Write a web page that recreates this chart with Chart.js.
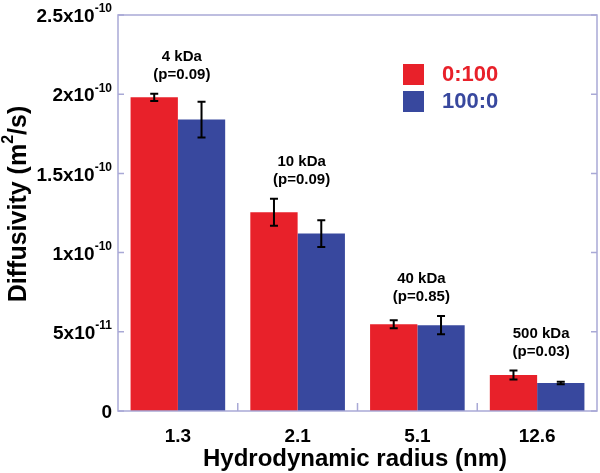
<!DOCTYPE html>
<html>
<head>
<meta charset="utf-8">
<script src="https://cdn.jsdelivr.net/npm/chart.js@4.4.1/dist/chart.umd.min.js"></script>
<style>
html,body{margin:0;padding:0;background:#fff;}
#wrap{width:600px;height:473px;position:relative;}
</style>
</head>
<body>
<div id="wrap"><canvas id="c" width="600" height="473"></canvas></div>
<script>
// ---- data ----
const categories = ['1.3', '2.1', '5.1', '12.6'];
const seriesNames = ['0:100', '100:0'];
const red_0_100 = [1.98e-10, 1.255e-10, 5.48e-11, 2.27e-11];
const red_err = [0.23e-11, 0.85e-11, 0.25e-11, 0.28e-11];
const blue_100_0 = [1.84e-10, 1.12e-10, 5.42e-11, 1.77e-11];
const blue_err = [1.13e-11, 0.84e-11, 0.57e-11, 0.08e-11];
const groupLabels = ['4 kDa', '10 kDa', '40 kDa', '500 kDa'];
const pValues = ['(p=0.09)', '(p=0.09)', '(p=0.85)', '(p=0.03)'];
const yTicks = [0, 5e-11, 1e-10, 1.5e-10, 2e-10, 2.5e-10];
const yTickBase = ['0', '5x10', '1x10', '1.5x10', '2x10', '2.5x10'];
const yTickExp = ['', '-11', '-10', '-10', '-10', '-10'];

const RED = '#e8212a';
const BLUE = '#38489e';
const FRAME = '#a9a9d6';
const FONT = '"Liberation Sans", Arial, Helvetica, sans-serif';

function supText(ctx, base, sup, x, y, size, supSize, align) {
  ctx.font = 'bold ' + size + 'px ' + FONT;
  const wb = ctx.measureText(base).width;
  ctx.font = 'bold ' + supSize + 'px ' + FONT;
  const ws = sup ? ctx.measureText(sup).width : 0;
  const total = wb + ws;
  let x0 = x;
  if (align === 'right') x0 = x - total;
  else if (align === 'center') x0 = x - total / 2;
  ctx.textAlign = 'left';
  ctx.textBaseline = 'middle';
  ctx.font = 'bold ' + size + 'px ' + FONT;
  ctx.fillText(base, x0, y);
  if (sup) {
    ctx.font = 'bold ' + supSize + 'px ' + FONT;
    ctx.fillText(sup, x0 + wb, y - size * 0.42);
  }
}

const decor = {
  id: 'decor',
  afterDatasetsDraw(chart) {
    const ctx = chart.ctx;
    const ca = chart.chartArea;
    const xs = chart.scales.x, ys = chart.scales.y;
    ctx.save();
    // frame
    ctx.strokeStyle = FRAME;
    ctx.lineWidth = 1.5;
    ctx.strokeRect(ca.left, ca.top, ca.right - ca.left, ca.bottom - ca.top);
    // y ticks (inside, both sides)
    yTicks.forEach(v => {
      const py = ys.getPixelForValue(v);
      ctx.beginPath();
      ctx.moveTo(ca.left, py); ctx.lineTo(ca.left + 6, py);
      ctx.moveTo(ca.right, py); ctx.lineTo(ca.right - 6, py);
      ctx.stroke();
    });
    // x ticks at category boundaries
    for (let i = 1; i < categories.length; i++) {
      const px = (xs.getPixelForValue(i - 1) + xs.getPixelForValue(i)) / 2;
      ctx.beginPath();
      ctx.moveTo(px, ca.bottom); ctx.lineTo(px, ca.bottom - 8);
      ctx.stroke();
    }
    // error bars
    ctx.strokeStyle = '#000';
    ctx.lineWidth = 2;
    const errs = [red_err, blue_err];
    const tops = [];
    chart.data.datasets.forEach((ds, di) => {
      const meta = chart.getDatasetMeta(di);
      meta.data.forEach((bar, i) => {
        const v = ds.data[i];
        const e = errs[di][i];
        const yt = ys.getPixelForValue(v + e);
        const yb = ys.getPixelForValue(v - e);
        const x = bar.x;
        ctx.beginPath();
        ctx.moveTo(x, yt); ctx.lineTo(x, yb);
        ctx.moveTo(x - 4, yt); ctx.lineTo(x + 4, yt);
        ctx.moveTo(x - 4, yb); ctx.lineTo(x + 4, yb);
        ctx.stroke();
        tops[i] = Math.min(tops[i] === undefined ? Infinity : tops[i], yt);
      });
    });
    // group annotations
    ctx.fillStyle = '#000';
    categories.forEach((c, i) => {
      const x = xs.getPixelForValue(i) + 4;
      const yb = tops[i] - 19;
      ctx.font = 'bold 15px ' + FONT;
      ctx.textAlign = 'center';
      ctx.textBaseline = 'middle';
      ctx.fillText(pValues[i], x, yb);
      ctx.fillText(groupLabels[i], x, yb - 18);
    });
    // y tick labels
    ctx.fillStyle = '#000';
    yTicks.forEach((v, i) => {
      const py = ys.getPixelForValue(v);
      supText(ctx, yTickBase[i], yTickExp[i], 112, py + 2, 19, 12, 'right');
    });
    ctx.restore();
  }
};

const titles = {
  id: 'titles',
  afterDraw(chart) {
    const ctx = chart.ctx;
    // y title with superscript
    ctx.save();
    ctx.fillStyle = '#000';
    const size = 25, sup = 16;
    const p1 = 'Diffusivity (m', p2 = '2', p3 = '/s)';
    ctx.font = 'bold ' + size + 'px ' + FONT;
    const w1 = ctx.measureText(p1).width, w3 = ctx.measureText(p3).width;
    ctx.font = 'bold ' + sup + 'px ' + FONT;
    const w2 = ctx.measureText(p2).width;
    const total = w1 + w2 + w3;
    ctx.translate(19, 204);
    ctx.rotate(-Math.PI / 2);
    ctx.textAlign = 'left';
    ctx.textBaseline = 'middle';
    let x = -total / 2;
    ctx.font = 'bold ' + size + 'px ' + FONT;
    ctx.fillText(p1, x, 0);
    x += w1;
    ctx.font = 'bold ' + sup + 'px ' + FONT;
    ctx.fillText(p2, x, -size * 0.42);
    x += w2;
    ctx.font = 'bold ' + size + 'px ' + FONT;
    ctx.fillText(p3, x, 0);
    ctx.restore();

    // legend
    ctx.save();
    const lx = 403, ly = [64, 91];
    const cols = [RED, BLUE];
    seriesNames.forEach((n, i) => {
      ctx.fillStyle = cols[i];
      ctx.fillRect(lx, ly[i], 21, 21);
      ctx.font = 'bold 22px ' + FONT;
      ctx.textAlign = 'left';
      ctx.textBaseline = 'middle';
      ctx.fillText(n, 442, ly[i] + 11);
    });
    // x title
    ctx.fillStyle = '#000';
    ctx.font = 'bold 24px ' + FONT;
    ctx.textAlign = 'center';
    ctx.textBaseline = 'middle';
    ctx.fillText('Hydrodynamic radius (nm)', 355, 459);
    ctx.restore();
  }
};

new Chart(document.getElementById('c'), {
  type: 'bar',
  data: {
    labels: categories,
    datasets: [
      { label: seriesNames[0], data: red_0_100, backgroundColor: RED, borderWidth: 0 },
      { label: seriesNames[1], data: blue_100_0, backgroundColor: BLUE, borderWidth: 0 }
    ]
  },
  options: {
    responsive: false,
    animation: false,
    devicePixelRatio: 1,
    layout: { padding: { top: 15, right: 3, left: 0, bottom: 0 } },
    plugins: { legend: { display: false }, tooltip: { enabled: false } },
    datasets: { bar: { categoryPercentage: 0.79, barPercentage: 1.0 } },
    scales: {
      x: {
        grid: { display: false, drawTicks: false },
        border: { display: false },
        ticks: { font: { family: FONT, size: 19, weight: 'bold' }, color: '#000', padding: 14, maxRotation: 0 },
        afterFit(s) { s.height = 62; }
      },
      y: {
        min: 0, max: 2.5e-10,
        grid: { display: false },
        border: { display: false },
        ticks: { display: false, stepSize: 5e-11 },
        afterFit(s) { s.width = 118; }
      }
    }
  },
  plugins: [decor, titles]
});
</script>
</body>
</html>
